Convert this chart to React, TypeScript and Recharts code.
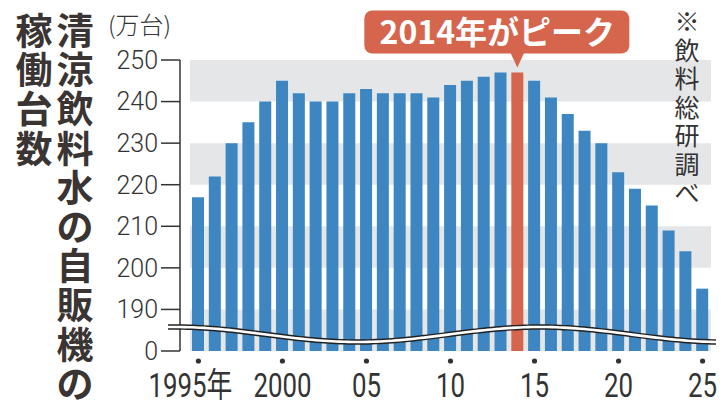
import React from 'react';
import { BarChart, Bar, XAxis, YAxis, Cell, ReferenceArea, LabelList } from 'recharts';

// 清涼飲料水の自販機の稼働台数（万台）
const years = [
  1995, 1996, 1997, 1998, 1999, 2000, 2001, 2002, 2003, 2004,
  2005, 2006, 2007, 2008, 2009, 2010, 2011, 2012, 2013, 2014,
  2015, 2016, 2017, 2018, 2019, 2020, 2021, 2022, 2023, 2024, 2025,
];
const units = [
  217, 222, 230, 235, 240, 245, 242, 240, 240, 242,
  243, 242, 242, 242, 241, 244, 245, 246, 247, 247,
  245, 241, 237, 233, 230, 223, 219, 215, 209, 204, 195,
];
const peakYear = 2014;

const tickYears = [1995, 2000, 2005, 2010, 2015, 2020, 2025];
const tickYearLabels = ['1995年', '2000', '05', '10', '15', '20', '25'];
const yTickValues = [0, 190, 200, 210, 220, 230, 240, 250];
const shadedBands = [[180, 190], [200, 210], [220, 230], [240, 250]];

// axis is broken between 0 and 190: everything is drawn relative to 180
const BREAK_BASE = 180;
const shift = (v: number) => (v === 0 ? 0 : v - BREAK_BASE);

const W = 728;
const H = 407;
const M = { top: 60, right: 12, bottom: 6, left: 0 };
const Y_AXIS_W = 180;
const X_AXIS_H = 50;
const PLOT_LEFT = M.left + Y_AXIS_W;
const PLOT_RIGHT = W - M.right;
const PLOT_BOTTOM = H - M.bottom - X_AXIS_H;

const BLUE = '#3d86c1';
const RED = '#d5654d';
const GRAY = '#e5e6e8';
const INK = '#333';

const data = years.map((year, i) => ({ year, value: shift(units[i]) }));

function YearTick(props: any) {
  const { x, y, payload } = props;
  const i = tickYears.indexOf(payload.value);
  if (i < 0) return null;
  const dx = i === 0 ? -8 : 0;
  return (
    <g>
      <circle cx={x} cy={y + 10} r={2.6} fill={INK} />
      <text
        transform={`translate(${x + dx},${y + 46}) scale(0.76,1)`}
        textAnchor="middle"
        fontSize={34}
        fontFamily="Roboto, 'Noto Sans CJK JP', sans-serif"
        fill={INK}
      >
        {tickYearLabels[i]}
      </text>
    </g>
  );
}

function PeakLabel(props: any) {
  const { x, y, width, index } = props;
  if (years[index] !== peakYear) return null;
  const cx = x + width / 2;
  const top = y - 62;
  const bottom = y - 19;
  return (
    <g>
      <rect x={cx - 153} y={top} width={265} height={bottom - top} rx={8} fill={RED} />
      <path d={`M${cx - 7},${bottom - 1} L${cx + 7},${bottom - 1} L${cx},${y - 5} Z`} fill={RED} />
      <text
        x={cx - 20}
        y={bottom - 9}
        textAnchor="middle"
        fontSize={32}
        fontWeight={700}
        fontFamily="'Noto Sans CJK JP', sans-serif"
        fill="#fff"
      >
        2014年がピーク
      </text>
    </g>
  );
}

// wavy double line marking the axis break, laid over the bars
function BreakWave() {
  const pts: string[] = [];
  for (let px = PLOT_LEFT - 12; px <= PLOT_RIGHT; px += 4) {
    const py = PLOT_BOTTOM - 16.5 - 7.5 * Math.cos((2 * Math.PI * (px - 175)) / 365);
    pts.push(`${px},${py.toFixed(2)}`);
  }
  const d = 'M' + pts.join(' L');
  return (
    <svg width={W} height={H} style={{ position: 'absolute', left: 0, top: 0, pointerEvents: 'none' }}>
      <path d={d} fill="none" stroke="#222" strokeWidth={5.5} />
      <path d={d} fill="none" stroke="#fff" strokeWidth={2.6} />
    </svg>
  );
}

const titleRight = '清涼飲料水の自販機の';
const titleLeft = '稼働台数';
const sourceNote = '※飲料総研調べ';

// vertical text, one character per box
function Column({ text, centerX, top, size, step, weight, color }: any) {
  const colW = size + 6;
  return (
    <>
      {text.split('').map((ch: string, i: number) => (
        <div
          key={i}
          style={{
            position: 'absolute',
            left: centerX - colW / 2,
            top: top + i * step,
            width: colW,
            height: step,
            lineHeight: `${step}px`,
            fontSize: size,
            fontWeight: weight,
            color,
            textAlign: 'center',
          }}
        >
          {ch}
        </div>
      ))}
    </>
  );
}

export default function App() {
  return (
    <div
      style={{
        position: 'absolute',
        left: 0,
        top: 0,
        width: W,
        height: H,
        background: '#fff',
        fontFamily: "'Noto Sans CJK JP', sans-serif",
        overflow: 'hidden',
      }}
    >
      <BarChart width={W} height={H} data={data} margin={M}>
        {shadedBands.map(([a, b]) => (
          <ReferenceArea key={a} y1={a - BREAK_BASE} y2={b - BREAK_BASE} fill={GRAY} fillOpacity={1} stroke="none" />
        ))}
        <XAxis
          dataKey="year"
          type="category"
          interval={4}
          height={X_AXIS_H}
          axisLine={false}
          tickLine={false}
          tickSize={0}
          tickMargin={0}
          padding={{ left: 10, right: 5 }}
          tick={<YearTick />}
        />
        <YAxis
          type="number"
          domain={[0, 70]}
          ticks={yTickValues.map(shift)}
          tickFormatter={(v: number) => (v === 0 ? '0' : String(v + BREAK_BASE))}
          width={Y_AXIS_W}
          tickSize={19}
          tickMargin={3}
          axisLine={{ stroke: INK, strokeWidth: 1.5 }}
          tickLine={{ stroke: INK, strokeWidth: 1.5 }}
          tick={{ fill: INK, fontSize: 25, fontWeight: 300, fontFamily: 'Roboto, sans-serif' }}
          interval={0}
        />
        <Bar dataKey="value" barSize={12} isAnimationActive={false}>
          {data.map((d) => (
            <Cell key={d.year} fill={d.year === peakYear ? RED : BLUE} />
          ))}
          <LabelList dataKey="value" content={<PeakLabel />} />
        </Bar>
      </BarChart>
      <BreakWave />

      <Column text={titleRight} centerX={75} top={10} size={37} step={39.2} weight={700} color="#3a3432" />
      <Column text={titleLeft} centerX={34} top={10} size={37} step={39.2} weight={700} color="#3a3432" />
      <div
        style={{
          position: 'absolute',
          left: 108,
          top: 6,
          fontSize: 24,
          fontWeight: 300,
          color: INK,
          whiteSpace: 'nowrap',
        }}
      >
        (万台)
      </div>
      <Column text={sourceNote} centerX={687} top={6} size={25} step={28.5} weight={400} color={INK} />
    </div>
  );
}
